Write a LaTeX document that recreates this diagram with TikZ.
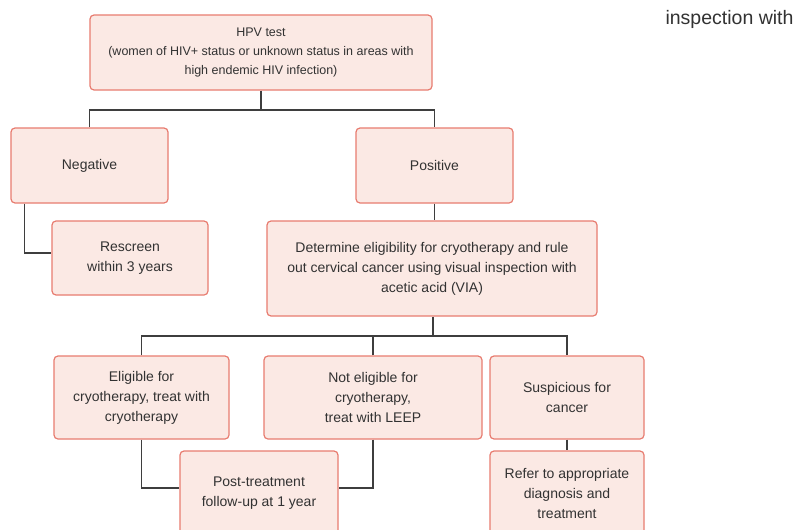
\documentclass[tikz,border=0pt]{standalone}
\usepackage{fontspec}
\setmainfont{Liberation Sans}
\definecolor{boxfill}{RGB}{251,233,228}
\definecolor{boxline}{RGB}{232,124,112}
\definecolor{linkgray}{RGB}{62,62,62}
\definecolor{textgray}{RGB}{50,50,50}
\tikzset{
	stepbox/.style={draw=boxline, fill=boxfill, line width=1.2pt, rounded corners=4pt,
		align=center, text=textgray, inner sep=0pt,
		font=\fontsize{14}{20}\selectfont},
	link/.style={draw=linkgray, line width=1.8pt}
}

\begin{document}
\begin{tikzpicture}[x=1pt, y=-1pt]
	\clip (0,0) rectangle (801,530);
	\fill[white] (0,0) rectangle (801,530);
	\node[text=textgray, font=\fontsize{19.5}{22}\selectfont, anchor=base east] (cut) at (797,24) {inspection with};
	\node[stepbox, minimum width=342pt, minimum height=75pt, font=\fontsize{12.5}{19}\selectfont] (hpv) at (261,52.5)
		{HPV test\\(women of HIV+ status or unknown status in areas with\\high endemic HIV infection)};
	\node[stepbox, minimum width=157pt, minimum height=75pt] (neg) at (89.5,165.5) {Negative};
	\node[stepbox, minimum width=157pt, minimum height=75pt] (pos) at (434.5,165.5) {Positive};
	\node[stepbox, minimum width=156pt, minimum height=74pt] (resc) at (130,258) {Rescreen\\within 3 years};
	\node[stepbox, minimum width=330pt, minimum height=95pt] (det) at (432,268.5)
		{Determine eligibility for cryotherapy and rule\\out cervical cancer using visual inspection with\\acetic acid (VIA)};
	\node[stepbox, minimum width=175pt, minimum height=83pt] (elig) at (141.5,397.5)
		{Eligible for\\cryotherapy, treat with\\cryotherapy};
	\node[stepbox, minimum width=218pt, minimum height=83pt] (nelig) at (373,397.5)
		{Not eligible for\\cryotherapy,\\treat with LEEP};
	\node[stepbox, minimum width=154pt, minimum height=83pt] (susp) at (567,397.5) {Suspicious for\\cancer};
	\node[stepbox, minimum width=158pt, minimum height=84pt] (post) at (259,493)
		{Post-treatment\\follow-up at 1 year};
	\node[stepbox, minimum width=154pt, minimum height=84pt] (refer) at (567,493)
		{Refer to appropriate\\diagnosis and\\treatment};
	\coordinate (split1) at (261,110);
	\coordinate (split2) at (433,336);
	\draw[link] (hpv.south) -- (split1);
	\draw[link] (neg.north) |- (split1) -| (pos.north);
	\draw[link] ([xshift=14pt]neg.south west) |- ([yshift=5pt]resc.west);
	\draw[link] (pos.south) -- (pos.south |- det.north);
	\draw[link] (det.south -| split2) -- (split2);
	\draw[link] (elig.north) |- (split2) -| (susp.north);
	\draw[link] (nelig.north) -- (nelig.north |- split2);
	\draw[link] (elig.south) |- ([yshift=5pt]post.west);
	\draw[link] (nelig.south) |- ([yshift=5pt]post.east);
	\draw[link] (susp.south) -- (refer.north);
\end{tikzpicture}
\end{document}
